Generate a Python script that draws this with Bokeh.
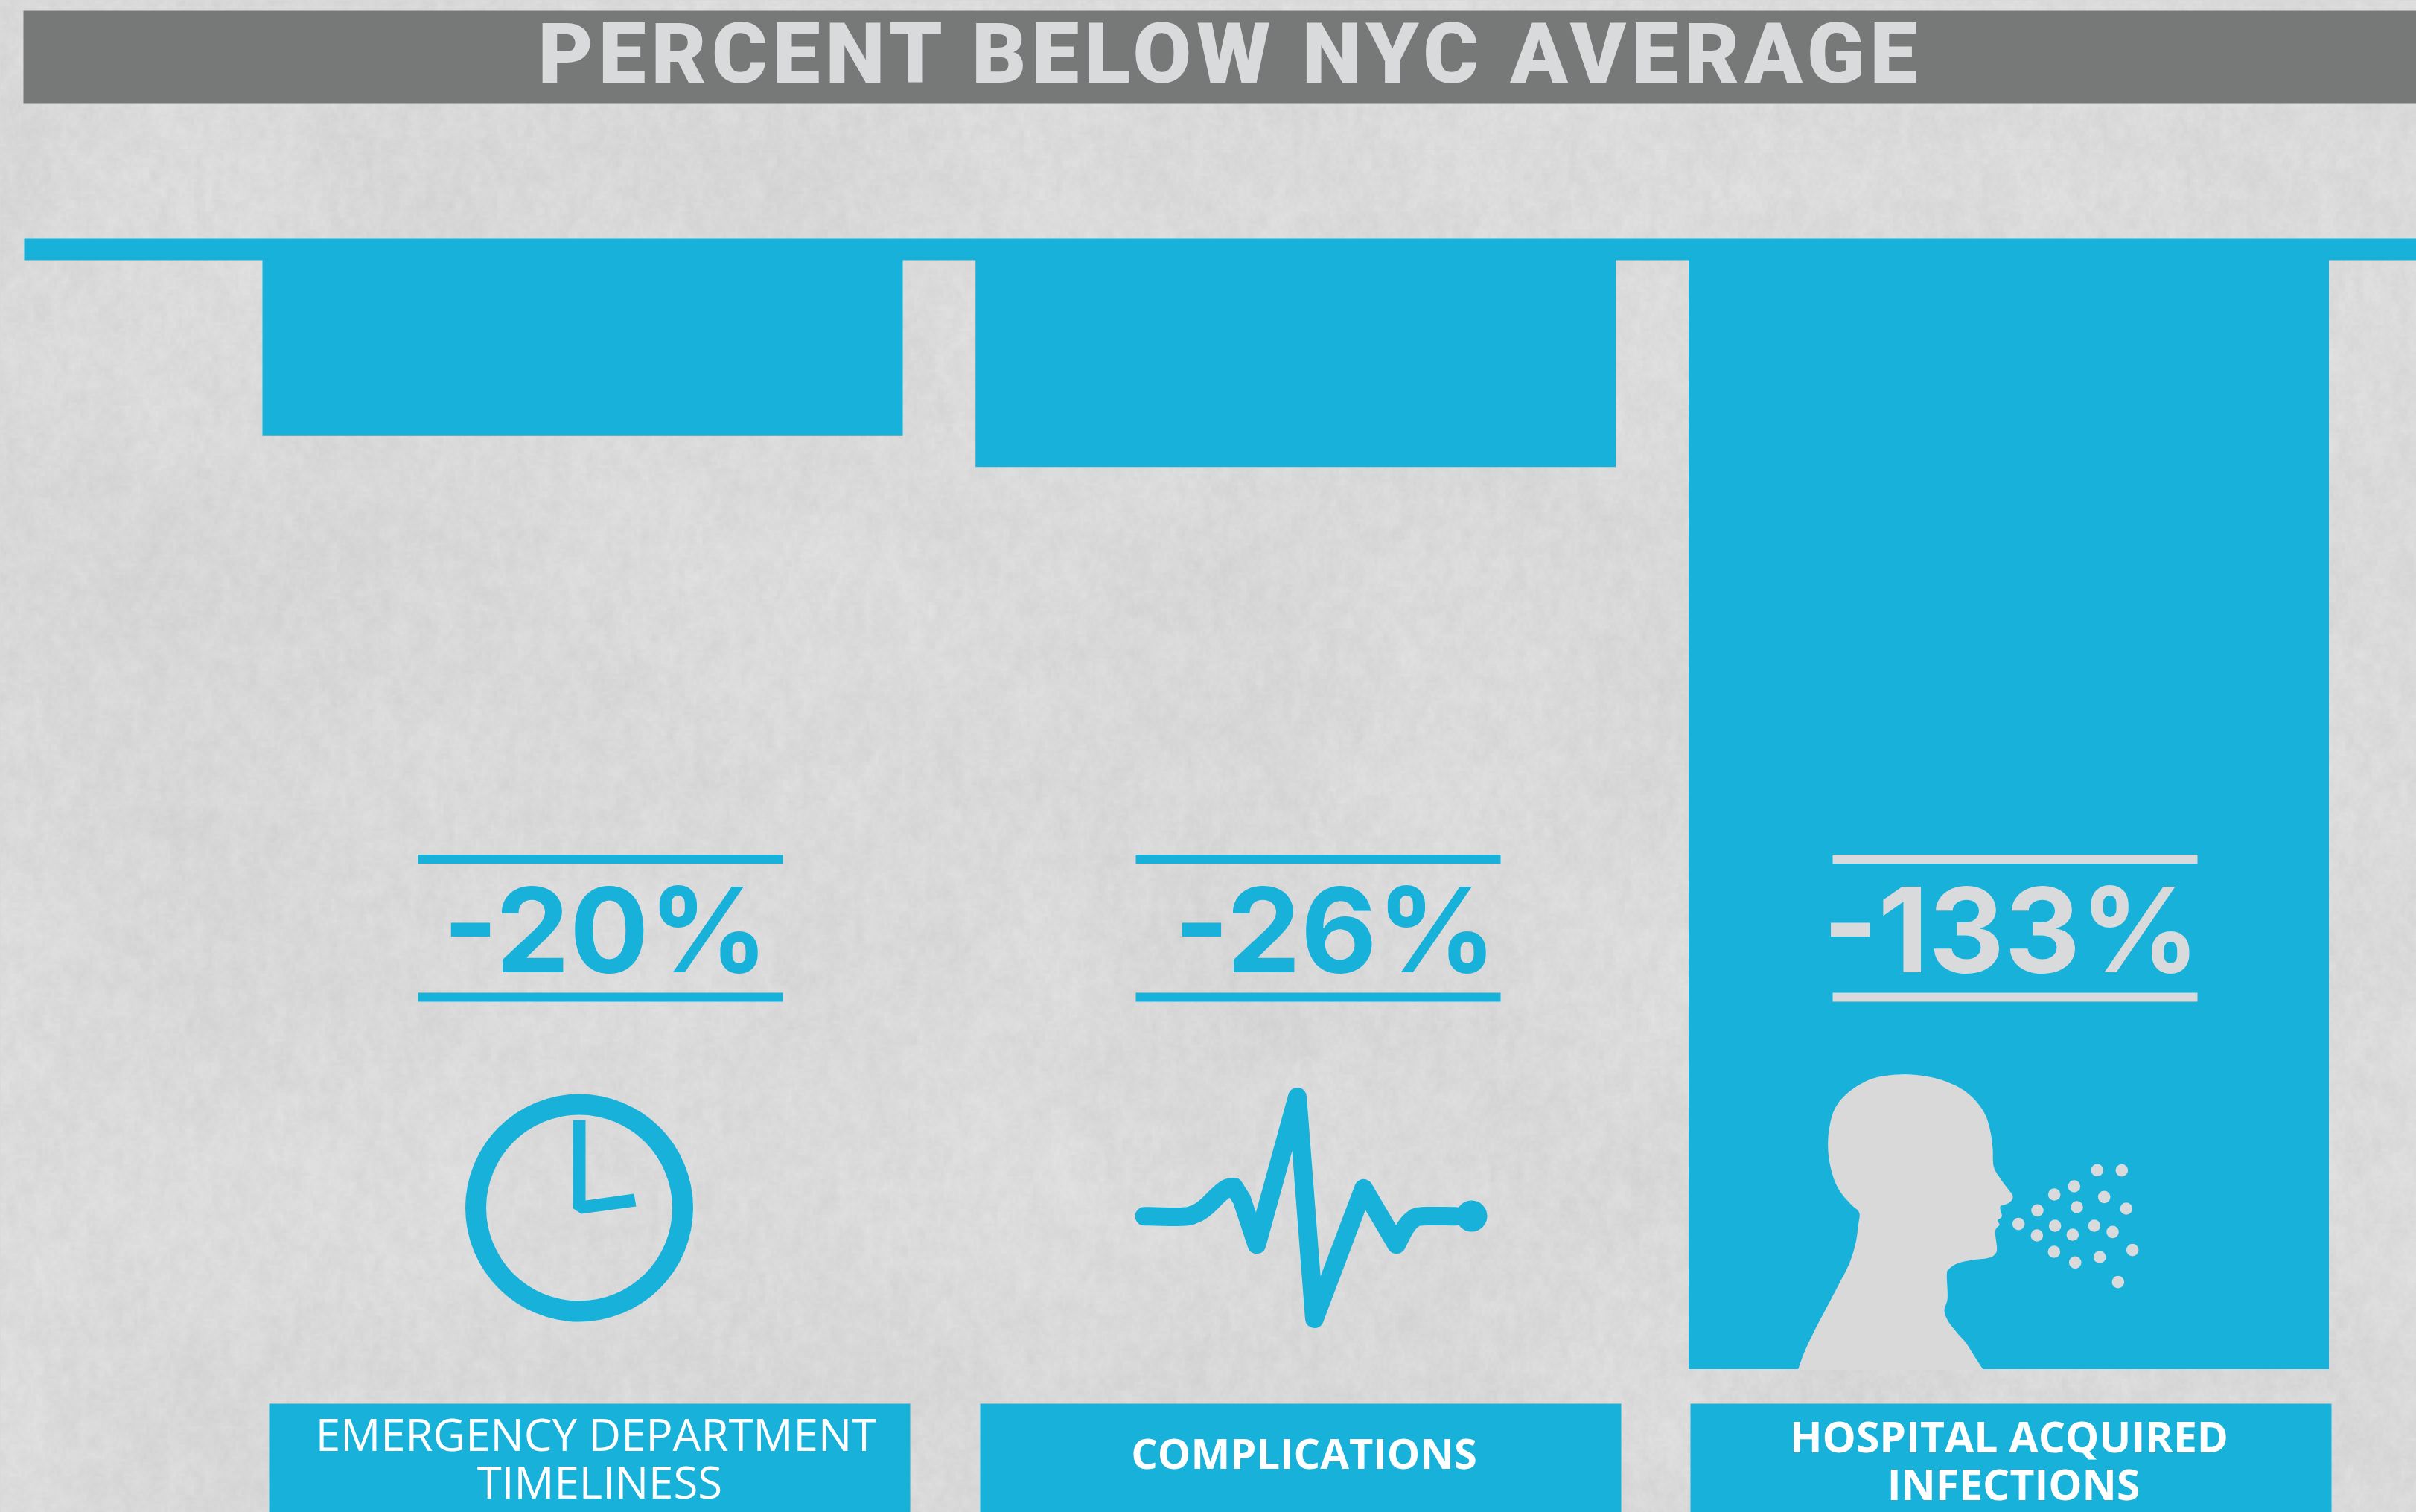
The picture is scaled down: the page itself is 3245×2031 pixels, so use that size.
import numpy as np
from bokeh.embed import file_html
from bokeh.resources import INLINE
from bokeh.plotting import figure
from bokeh.layouts import column
from bokeh.models import Range1d
from bokeh.core.properties import value

# ---- data ----
title_text = "PERCENT BELOW NYC AVERAGE"
categories = [["EMERGENCY DEPARTMENT", "TIMELINESS"], ["COMPLICATIONS"], ["HOSPITAL ACQUIRED", "INFECTIONS"]]
value_labels = ["-20%", "-26%", "-133%"]
bar_indices = [0, 1, 2]
bar_depths = [21.0, 24.8, 133.0]   # drawn length of each bar, percent below the average line

BG = "#d9d9d9"
BLUE = "#17b1da"
BAND = "#777878"
LIGHT = "#d8dadb"
W, H = 3245, 2031
SPLIT = 200
FONT = "Inter"

TEMPLATE = """{% block postamble %}<style>html,body{background:#d9d9d9;overflow:hidden;margin:0}</style>{% endblock %}
"""


# ---- decorative concrete texture (not data): a deterministic trig hash, smoothed ----
TW, TH = 812, 508
yy, xx = np.mgrid[0:TH, 0:TW].astype(float)


def _h(i, j):
    v = np.sin(i * 12.9898 + j * 78.233) * 43758.5453
    return v - np.floor(v)


def vnoise(cx, cy, s):
    u, w = xx / cx + s, yy / cy + s * 1.7
    i, j = np.floor(u), np.floor(w)
    f, g = u - i, w - j
    f, g = f * f * (3 - 2 * f), g * g * (3 - 2 * g)
    return ((_h(i, j) * (1 - f) + _h(i + 1, j) * f) * (1 - g) +
            (_h(i, j + 1) * (1 - f) + _h(i + 1, j + 1) * f) * g) - 0.5


lum = 218 + 6 * vnoise(70, 70, 3.1) + 3 * vnoise(14, 14, 7.3) + 6 * vnoise(3, 5, 11.9) + 7 * vnoise(1, 1, 5.7)
lum = np.clip(lum, 0, 255).astype(np.uint32)
texture = ((255 << 24) | (lum << 16) | (lum << 8) | lum).astype(np.uint32)


def base_fig(height, y_top, y_bottom, **kw):
    f = figure(width=W, height=height, x_range=Range1d(0, W), y_range=Range1d(y_bottom, y_top),
               output_backend="svg", toolbar_location=None, min_border=0, **kw)
    f.axis.visible = False
    f.grid.visible = False
    f.outline_line_color = None
    f.background_fill_color = BG
    f.border_fill_color = BG
    f.image_rgba(image=[texture], x=0, y=0, dw=W, dh=H)
    return f


# ---- title strip: its own figure so that its letter spacing stays local ----
p1 = base_fig(SPLIT, 0, SPLIT)
p1.styles = {"letter-spacing": "7px"}
p1.quad(left=[31], right=[W], top=[14], bottom=[139], fill_color=BAND, line_color=None)
p1.text(x=[722], y=[71], text=[title_text], text_font=value("Roboto Black, Roboto"), text_font_style="bold",
        text_font_size="114px", text_color=LIGHT, text_align="left", text_baseline="middle")

# ---- main panel ----
p2 = base_fig(H - SPLIT, SPLIT, H)
PX_PER_PCT = 11.2
ZERO_PX = 349
STEP = 957.75
FIRST_CENTRE = 782
p2.extra_y_ranges["pct"] = Range1d((ZERO_PX - H) / PX_PER_PCT, (ZERO_PX - SPLIT) / PX_PER_PCT)
p2.extra_x_ranges["idx"] = Range1d((0 - FIRST_CENTRE) / STEP, (W - FIRST_CENTRE) / STEP)

# zero line and bars
p2.quad(left=[32], right=[W], top=[320], bottom=[349], fill_color=BLUE, line_color=None)
p2.vbar(x=bar_indices, width=860 / STEP, top=0.1, bottom=[-d for d in bar_depths],
        x_range_name="idx", y_range_name="pct", fill_color=BLUE, line_color=None)

# rules and percentages
rule_x = [(561, 1051), (1525, 2015), (2461, 2951)]
text_x = [813, 1793, 2701]
colors = [BLUE, BLUE, LIGHT]
for (a, b), tx, lab, c in zip(rule_x, text_x, value_labels, colors):
    p2.quad(left=[a, a], right=[b, b], top=[1147.5, 1333], bottom=[1159.5, 1345], fill_color=c, line_color=None)
    p2.text(x=[tx], y=[1248], text=[lab], text_font=value(FONT), text_font_style="bold", text_font_size="158px",
            text_color=c, text_align="center", text_baseline="middle")

# clock icon
p2.annulus(x=[777.5], y=[1622], inner_radius=125, outer_radius=153, fill_color=BLUE, line_color=None)
p2.patch(x=[769, 786, 786, 851, 854, 780, 769], y=[1504, 1504, 1612, 1603, 1620, 1630, 1622.6],
         fill_color=BLUE, line_color=None)


def smooth(xs, ys, n=6):
    """Catmull-Rom through an open outline, so a drawn icon has no facets."""
    px, py = [xs[0]], [ys[0]]
    m = len(xs)
    for k in range(m - 1):
        a, b, c, d = max(k - 1, 0), k, k + 1, min(k + 2, m - 1)
        for t in np.linspace(0, 1, n + 1)[1:]:
            for arr, out in ((xs, px), (ys, py)):
                out.append(0.5 * (2 * arr[b] + (arr[c] - arr[a]) * t + (2 * arr[a] - 5 * arr[b] + 4 * arr[c] - arr[d]) * t * t
                                  + (3 * arr[b] - arr[a] - 3 * arr[c] + arr[d]) * t ** 3))
    return px, py


# pulse icon (read on a crop at origin 1300,1100, scaled 1.742 x 1.684)
tail_l = smooth([412, 500, 530, 555, 585, 605, 622], [898, 899, 893, 878, 850, 835, 832])
spikes = ([640, 675, 770, 810, 925], [860, 962, 628, 1130, 835])
tail_r = smooth([1002, 1022, 1040, 1062, 1140], [962, 925, 905, 898, 898])
lx = tail_l[0] + spikes[0] + tail_r[0]
ly = tail_l[1] + spikes[1] + tail_r[1]
p2.line(x=[1300 + v / 1.742 for v in lx], y=[1100 + v / 1.684 for v in ly],
        line_color=BLUE, line_width=25, line_join="round", line_cap="round")
p2.circle(x=[1976], y=[1633], radius=21, fill_color=BLUE, line_color=None)

# head icon (read on a 3x crop at origin 2380,1400)
hx = [103,130,170,220,270,310,335,347,350,320,280,250,230,224,230,250,290,350,420,520,600,680,760,820,860,880,888,892,
      920,950,968,965,945,918,925,908,915,898,905,895,870,800,745,712,703,706,693,710,745,780,815,850]
hy = [1318,1245,1160,1065,970,890,810,730,685,655,610,555,480,410,340,270,215,170,140,128,133,150,185,235,295,365,430,500,
      550,590,615,635,650,662,700,716,735,760,830,855,868,877,890,912,935,1030,1080,1125,1170,1210,1265,1318]
sx, sy = smooth(hx, hy)
p2.patch(x=[2380 + v / 3 for v in sx], y=[1400 + v / 3 for v in sy], fill_color=BG, line_color=None)
dx = [1309,1408,1216,1136,1337,1227,1426,1068,992,1139,1297,1371,1066,1210,1451,1135,1319,1220,1393]
dy = [514,515,579,612,622,663,669,676,731,738,738,763,777,774,836,843,864,886,965]
p2.circle(x=[2380 + v / 3 for v in dx], y=[1400 + v / 3 for v in dy], radius=8.3, fill_color=LIGHT, line_color=None)

# category boxes and names
box_x = [(361, 1222), (1316, 2177), (2270, 3131)]
name_x = [[800, 805], [1751], [2698, 2704]]
name_y = [[1925, 1989], [1950], [1928, 1992]]
styles = ["normal", "bold", "bold"]
sizes = ["60px", "56px", "57px"]
for (a, b), lines, xs, ys, st, sz in zip(box_x, categories, name_x, name_y, styles, sizes):
    p2.quad(left=[a], right=[b], top=[1885], bottom=[H], fill_color=BLUE, line_color=None)
    p2.text(x=xs, y=ys, text=lines, text_font=value("Open Sans"), text_font_style=st, text_font_size=sz,
            text_color="#ffffff", text_align="center", text_baseline="middle")

layout = column(p1, p2, spacing=0)
open("out.html", "w").write(file_html(layout, INLINE, template=TEMPLATE))
